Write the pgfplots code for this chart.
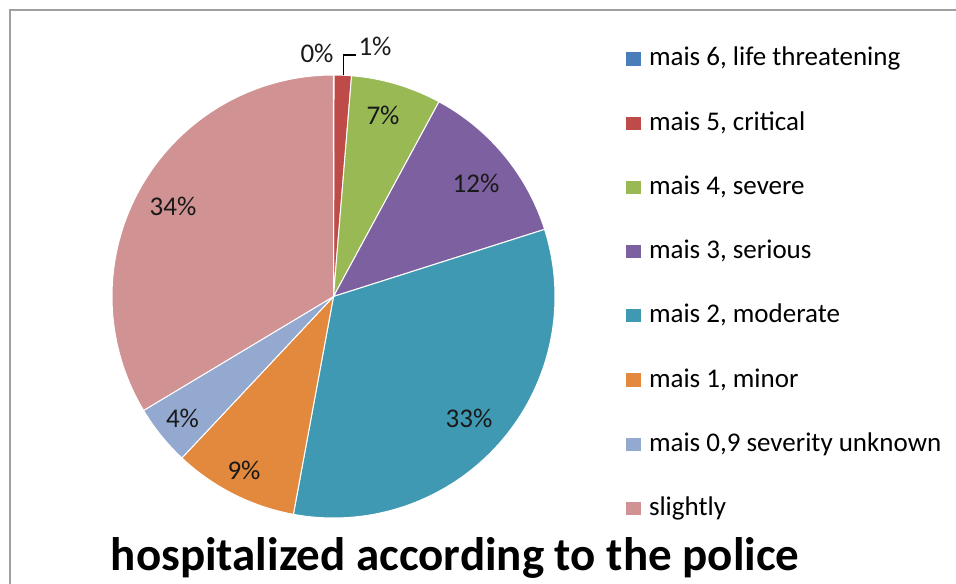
\documentclass[border=0pt]{standalone}
\usepackage{fontspec}
\setmainfont{Carlito}
\usepackage{pgfplots}
\pgfplotsset{compat=1.18}
\definecolor{cSix}{RGB}{74,126,187}
\definecolor{cFive}{RGB}{190,75,72}
\definecolor{cFour}{RGB}{152,185,84}
\definecolor{cThree}{RGB}{125,96,160}
\definecolor{cTwo}{RGB}{64,153,178}
\definecolor{cOne}{RGB}{226,137,62}
\definecolor{cNine}{RGB}{147,169,207}
\definecolor{cSl}{RGB}{208,146,146}
\definecolor{frame}{RGB}{160,160,160}
\def\cx{333.5}
\def\cy{286.5}
\def\rr{221.5}
% slice: start (cumulative %), value (%), colour, legend text
\newcommand{\pieslice}[4]{%
  \pgfmathsetmacro{\pend}{#1+#2}%
  \addplot[fill=#3, draw=white, line width=0.5pt, domain=#1:\pend, samples=90, variable=\t,
    legend image code/.code={\fill[draw=none] (0pt,-3.3pt) rectangle (7.5pt,3.3pt);}]
    ({\cx+\rr*cos(90-3.6*\t)},{\cy+\rr*sin(90-3.6*\t)}) -- (axis cs:\cx,\cy) -- cycle;
  \addlegendentry{#4}%
}
\begin{document}
\begin{tikzpicture}
\begin{axis}[name=ax, x=0.5pt, y=0.5pt, xmin=0, xmax=956, ymin=0, ymax=583,
  hide axis, clip=false,
  legend cell align=left,
  legend style={at={(axis description cs:0.6548,0.9211)}, anchor=north west,
    draw=none, fill=none, inner sep=0pt, outer sep=0pt,
    font=\fontsize{13.5}{16}\selectfont, row sep=19.1pt,
    nodes={inner sep=0pt, text height=10pt, text depth=3pt},
    /tikz/every odd column/.style={column sep=4pt}},
]
\pieslice{0}{0.04}{cSix}{mais 6, life threatening}
\pieslice{0.04}{1.26}{cFive}{mais 5, critical}
\pieslice{1.3}{6.6}{cFour}{mais 4, severe}
\pieslice{7.9}{12.2}{cThree}{mais 3, serious}
\pieslice{20.1}{32.8}{cTwo}{mais 2, moderate}
\pieslice{52.9}{9.1}{cOne}{mais 1, minor}
\pieslice{62.0}{4.4}{cNine}{mais 0,9 severity unknown}
\pieslice{66.4}{33.6}{cSl}{slightly}
% frame
\draw[frame, line width=1pt] (axis cs:9.5,-30) -- (axis cs:9.5,573) -- (axis cs:1000,573);
% data labels
\begin{scope}[font=\fontsize{13.5}{16}\selectfont, text=black!90]
\node at (axis cs:317,530) {0\%};
\node at (axis cs:375,537) {1\%};
\draw[black, line width=0.6pt] (axis cs:343.3,508) -- (axis cs:343.3,528) -- (axis cs:356,528);
\node at (axis cs:383,467.5) {7\%};
\node at (axis cs:476,400) {12\%};
\node at (axis cs:469,165) {33\%};
\node at (axis cs:244,113) {9\%};
\node at (axis cs:182.5,164.5) {4\%};
\node at (axis cs:173,377) {34\%};
\end{scope}
\node[font=\fontsize{23.5}{28}\selectfont\bfseries, anchor=base] at (axis cs:455,13) {hospitalized according to the police};
\end{axis}
\pgfresetboundingbox
\path[use as bounding box] (ax.south west) rectangle (ax.north east);
\end{tikzpicture}
\end{document}
